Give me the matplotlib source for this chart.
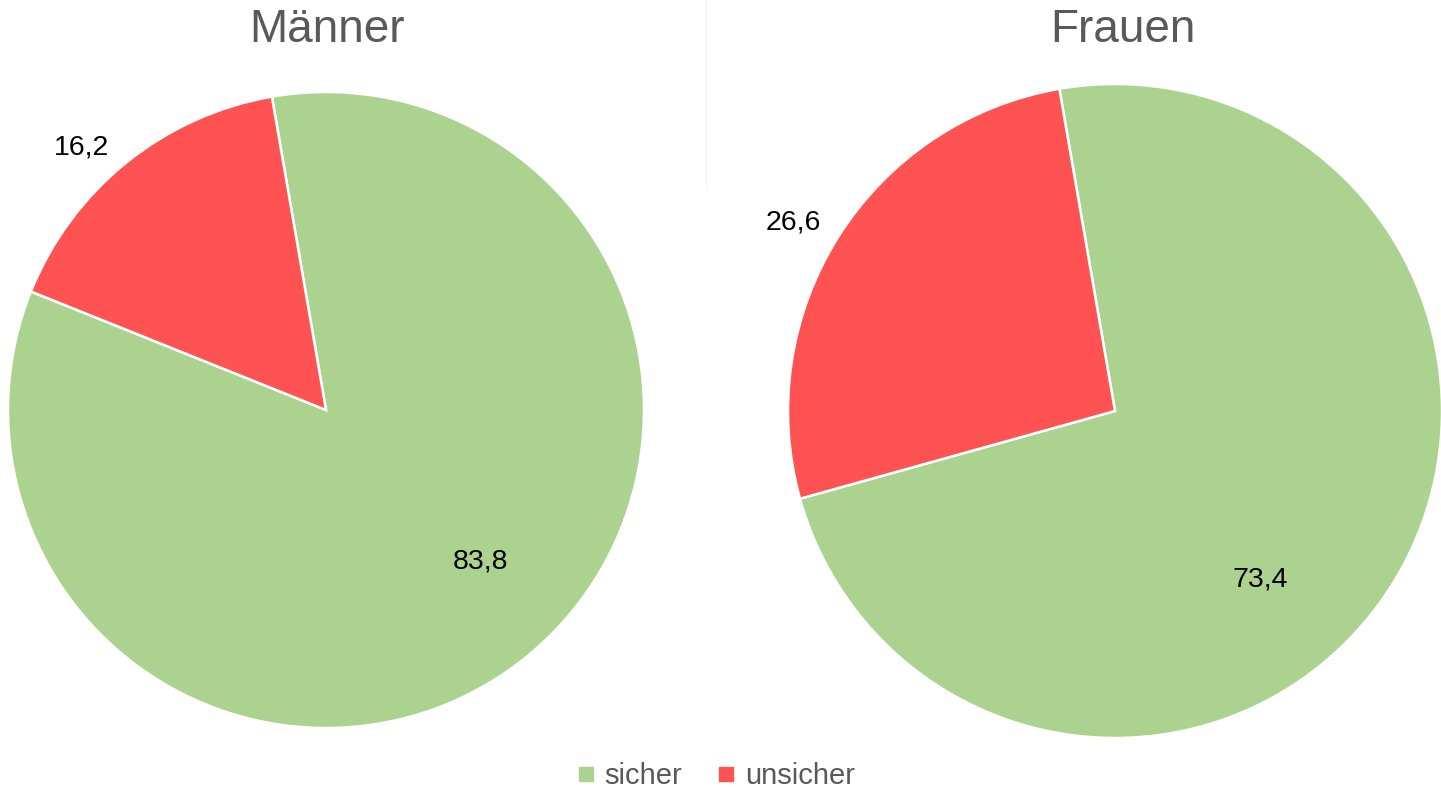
import numpy as np
import matplotlib
matplotlib.use("Agg")
import matplotlib.pyplot as plt
from matplotlib.lines import Line2D

plt.rcParams['font.family'] = ['Liberation Sans', 'DejaVu Sans']

# data
groups = ['Männer', 'Frauen']
categories = ['sicher', 'unsicher']
values = [[83.8, 16.2], [73.4, 26.6]]
value_labels = [['83,8', '16,2'], ['73,4', '26,6']]

colors = ['#acd28f', '#ff5353']
grey = '#595959'

W, H = 1441, 793
fig = plt.figure(figsize=(W / 100, H / 100), dpi=100)

# pie centres / radii in pixels (layout)
pies = [(326, 410, 318), (1115, 411, 327)]
# label placement: (angle shift in degrees, distance as fraction of radius)
label_place = [[(6.5, 0.68), (4, 1.13)], [(-17, 0.68), (2, 1.14)]]
title_x = [327, 1123]

for i, (cx, cy, r) in enumerate(pies):
    pad = 1.02
    ax = fig.add_axes([(cx - r * pad) / W, (H - cy - r * pad) / H,
                       2 * r * pad / W, 2 * r * pad / H])
    wedges, _ = ax.pie(values[i], colors=colors, startangle=99.8,
                       counterclock=False, radius=1,
                       wedgeprops=dict(edgecolor='white', linewidth=1.8))
    ax.set_xlim(-pad, pad)
    ax.set_ylim(-pad, pad)
    ax.set_aspect('auto')
    ax.axis('off')
    for w, lab, (shift, dist) in zip(wedges, value_labels[i], label_place[i]):
        mid = np.deg2rad((w.theta1 + w.theta2) / 2 + shift)
        ax.text(dist * np.cos(mid), dist * np.sin(mid), lab, ha='center',
                va='center', fontsize=20.5, color='black')
    fig.text(title_x[i] / W, 1 - 30 / H, groups[i], ha='center', va='center',
             fontsize=33, color=grey)

# faint divider
fig.add_artist(Line2D([706 / W, 706 / W], [1, 1 - 188 / H], color='#f3f3f3',
                      linewidth=0.8))

handles = [Line2D([], [], marker='s', linestyle='none', markersize=9.5,
                  markerfacecolor=c, markeredgecolor=c) for c in colors]
fig.legend(handles, categories, loc='center', bbox_to_anchor=(716 / W, 1 - 776 / H),
           ncol=2, frameon=False, fontsize=21, labelcolor=grey,
           handlelength=0.6, handletextpad=0.35, columnspacing=1.2)

fig.savefig('out.png', dpi=100, facecolor='white')
